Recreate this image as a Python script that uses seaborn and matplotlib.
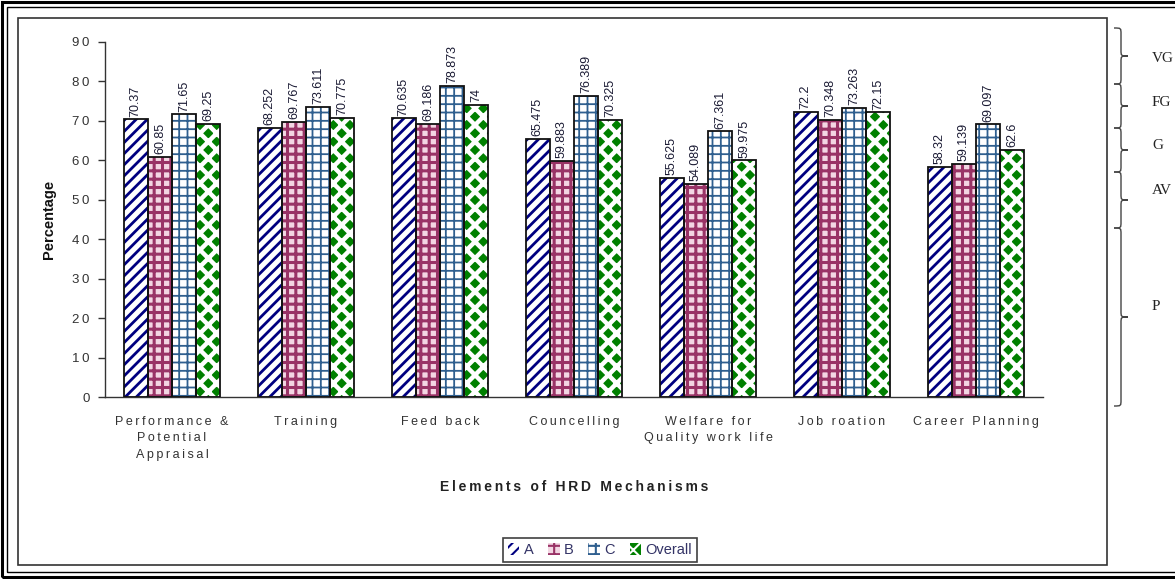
import matplotlib
matplotlib.use("Agg")
import matplotlib.pyplot as plt
import seaborn as sns
import pandas as pd
from matplotlib.patches import Rectangle, Patch, PathPatch
from matplotlib.path import Path

categories = ["Performance &\nPotential\nAppraisal", "Training", "Feed back",
              "Councelling", "Welfare for\nQuality work life", "Job roation",
              "Career Planning"]
series_names = ["A", "B", "C", "Overall"]
values_a = [70.37, 68.252, 70.635, 65.475, 55.625, 72.2, 58.32]
values_b = [60.85, 69.767, 69.186, 59.883, 54.089, 70.348, 59.139]
values_c = [71.65, 73.611, 78.873, 76.389, 67.361, 73.263, 69.097]
values_overall = [69.25, 70.775, 74, 70.325, 59.975, 72.15, 62.6]
y_ticks = [0, 10, 20, 30, 40, 50, 60, 70, 80, 90]
grade_labels = ["VG", "FG", "G", "AV", "P"]

W, H = 1175, 579
sns.set_theme(style="white")
plt.rcParams["font.family"] = ["Liberation Sans", "DejaVu Sans"]
plt.rcParams["hatch.linewidth"] = 1.5

rows = []
for name, vals in zip(series_names, [values_a, values_b, values_c, values_overall]):
    for cat, v in zip(categories, vals):
        rows.append({"category": cat, "series": name, "value": v})
df = pd.DataFrame(rows)

# fill styles per series: (face, hatch, hatch colour, hatch width)
styles = {
    "A": ("white", "///", "#000080", 2.0),
    "B": ("#f3d6e3", "++", "#993366", 2.2),
    "C": ("white", "++", "#2f5f8f", 1.3),
    "Overall": ("#008000", "xx", "white", 3.2),
}

fig = plt.figure(figsize=(W / 100, H / 100), dpi=100)
ax = fig.add_axes([105 / W, 1 - 397 / H, (1043 - 105) / W, (397 - 42) / H])

sns.barplot(data=df, x="category", y="value", hue="series", hue_order=series_names,
            order=categories, width=0.72, gap=0, ax=ax, legend=False)


def spaced(s):
    return "\n".join("\u2009".join(line) for line in s.split("\n"))


def style_patch(p, name):
    face, hatch, hcol, hlw = styles[name]
    p.set_facecolor(face)
    p.set_edgecolor(hcol)
    p.set_linewidth(0)
    p.set_hatch(hatch)
    if hasattr(p, "set_hatch_linewidth"):
        p.set_hatch_linewidth(hlw)


for name, cont in zip(series_names, ax.containers):
    for bar, val in zip(cont, df[df.series == name].value):
        style_patch(bar, name)
        x, y = bar.get_xy()
        ax.add_patch(Rectangle((x, y), bar.get_width(), bar.get_height(),
                               fill=False, edgecolor="#111111", linewidth=1.3, zorder=3))
        ax.text(x + bar.get_width() / 2, val + 0.7, f"{val:g}", rotation=90,
                ha="center", va="bottom", fontsize=9, color="#1a1a33")

ax.set_xlim(-0.5, len(categories) - 0.5)
ax.set_ylim(0, 90)
ax.set_yticks(y_ticks)
ax.set_yticklabels([spaced(str(t)) for t in y_ticks], fontsize=9.5, color="#333333")
ax.set_xticks(range(len(categories)))
ax.set_xticklabels([spaced(c) for c in categories], fontsize=9, color="#333333",
                   linespacing=1.45)
ax.set_xticks([i - 0.5 for i in range(len(categories) + 1)], minor=True)
ax.tick_params(axis="x", which="major", length=0, pad=14)
ax.tick_params(axis="x", which="minor", length=5, width=1, color="#333333", direction="out")
ax.tick_params(axis="y", length=5, width=1, color="#333333", direction="out", pad=6, left=True)
for s in ["top", "right"]:
    ax.spines[s].set_visible(False)
for s in ["left", "bottom"]:
    ax.spines[s].set_color("#333333")
    ax.spines[s].set_linewidth(1)

ax.set_xlabel(spaced("Elements of HRD Mechanisms"), fontsize=10, fontweight="bold",
              color="#222222")
ax.set_ylabel("Percentage", fontsize=10.5, fontweight="bold", color="#111111", labelpad=12)
ax.xaxis.set_label_coords(0.5, -0.233)

handles = []
for name in series_names:
    h = Patch()
    style_patch(h, name)
    handles.append(h)
leg = fig.legend(handles, series_names, loc="center", bbox_to_anchor=(600 / W, 1 - 550 / H),
                 ncol=4, frameon=True, fancybox=False, fontsize=10.5, handlelength=0.8,
                 handleheight=0.8, handletextpad=0.3, columnspacing=1.0,
                 borderpad=0.35, edgecolor="#111111")
leg.get_frame().set_linewidth(1.2)
for t in leg.get_texts():
    t.set_color("#333366")


def fig_rect(x0, y0, x1, y1, lw, color="black"):
    fig.add_artist(Rectangle((x0 / W, 1 - y1 / H), (x1 - x0) / W, (y1 - y0) / H,
                             transform=fig.transFigure, fill=False, edgecolor=color,
                             linewidth=lw))


# page borders
fig_rect(2, 2, 1190, 577, 2.2)
fig_rect(7, 7, 1185, 572, 1.0)
fig_rect(18, 18, 1107, 565, 1.2, "#333333")


def brace(y0, y1, x0=1114, xm=1121, x1=1128, r=6):
    ym = (y0 + y1) / 2
    pts = [(x0, y0), (xm, y0), (xm, y0), (xm, y0 + r),
           (xm, ym - r),
           (xm, ym), (xm, ym), (x1, ym),
           (xm, ym), (xm, ym), (xm, ym + r),
           (xm, y1 - r),
           (xm, y1), (xm, y1), (x0, y1)]
    codes = [Path.MOVETO, Path.CURVE4, Path.CURVE4, Path.CURVE4, Path.LINETO,
             Path.CURVE4, Path.CURVE4, Path.CURVE4,
             Path.CURVE4, Path.CURVE4, Path.CURVE4, Path.LINETO,
             Path.CURVE4, Path.CURVE4, Path.CURVE4]
    pts = [(x / W, 1 - y / H) for x, y in pts]
    fig.add_artist(PathPatch(Path(pts, codes), transform=fig.transFigure, fill=False,
                             edgecolor="#444444", linewidth=1.0))


bounds = [28, 84, 128, 172, 228, 406]
label_y = [58, 103, 146, 190, 307]
for i, lab in enumerate(grade_labels):
    brace(bounds[i], bounds[i + 1])
    fig.text(1152 / W, 1 - label_y[i] / H, lab, fontsize=11, family="Liberation Serif",
             va="center", ha="left", color="#222222")

fig.savefig("out.png", dpi=100)
